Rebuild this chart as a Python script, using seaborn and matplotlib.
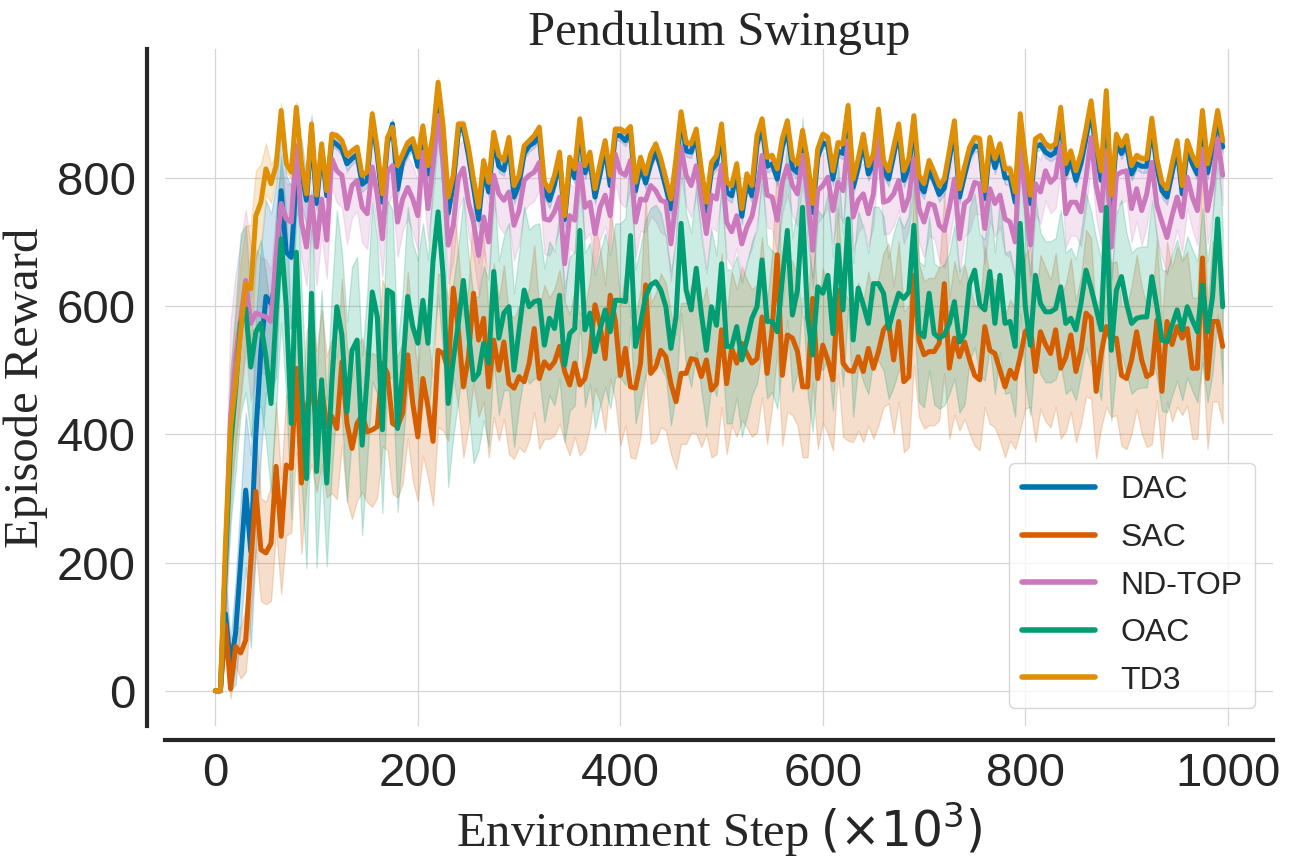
import numpy as np
import pandas as pd
import seaborn as sns
import matplotlib.pyplot as plt
from matplotlib.lines import Line2D

algos = ['DAC', 'SAC', 'ND-TOP', 'OAC', 'TD3']
step_size = 5  # evaluation every 5k env steps

# mean episode reward per evaluation (x = 0, 5, ..., 995)
dac_mean = [0, 0, 120, 40, 90, 200, 313, 217, 400, 530,
            615, 604, 640, 780, 684, 676, 800, 810, 765, 872,
            760, 845, 772, 858, 852, 845, 822, 830, 836, 790,
            796, 892, 835, 762, 855, 884, 782, 826, 842, 850,
            818, 872, 806, 858, 930, 870, 745, 790, 872, 878,
            835, 785, 735, 812, 778, 860, 818, 812, 852, 770,
            790, 838, 850, 855, 866, 780, 765, 790, 828, 735,
            818, 800, 880, 808, 826, 770, 806, 846, 788, 866,
            866, 858, 872, 780, 818, 792, 822, 842, 815, 785,
            752, 818, 895, 842, 840, 866, 800, 748, 812, 822,
            870, 778, 772, 808, 740, 792, 772, 852, 880, 818,
            822, 798, 848, 876, 815, 808, 862, 812, 746, 832,
            855, 850, 798, 842, 838, 900, 785, 816, 855, 806,
            822, 895, 812, 798, 835, 872, 796, 816, 884, 790,
            778, 812, 795, 774, 784, 828, 876, 770, 804, 835,
            850, 848, 768, 850, 816, 840, 800, 800, 762, 886,
            818, 760, 848, 852, 840, 835, 840, 896, 806, 828,
            796, 822, 862, 905, 842, 796, 920, 760, 855, 838,
            852, 806, 822, 818, 818, 880, 816, 780, 770, 808,
            845, 775, 845, 822, 806, 890, 808, 845, 892, 848]

sac_mean = [0, 0, 103, 3, 69, 59, 79, 200, 311, 220,
            215, 230, 350, 241, 352, 347, 503, 324, 440, 474,
            420, 474, 412, 428, 409, 513, 417, 378, 417, 430,
            404, 407, 412, 511, 495, 417, 412, 433, 524, 448,
            396, 487, 443, 389, 531, 526, 500, 628, 563, 474,
            520, 620, 547, 581, 474, 547, 500, 544, 479, 472,
            490, 482, 511, 565, 487, 513, 503, 513, 537, 498,
            477, 511, 477, 487, 526, 602, 570, 518, 617, 578,
            492, 534, 474, 472, 511, 633, 495, 505, 531, 521,
            479, 451, 495, 495, 518, 516, 490, 516, 469, 479,
            563, 479, 534, 511, 542, 526, 511, 518, 583, 495,
            563, 680, 492, 555, 550, 529, 474, 474, 612, 487,
            539, 516, 485, 625, 511, 500, 498, 521, 498, 534,
            503, 529, 563, 573, 516, 576, 482, 490, 648, 547,
            524, 529, 529, 542, 635, 503, 550, 521, 544, 516,
            492, 485, 568, 531, 526, 500, 474, 500, 487, 521,
            560, 568, 498, 560, 540, 526, 563, 503, 520, 555,
            498, 531, 589, 581, 467, 526, 568, 547, 550, 492,
            487, 516, 560, 516, 490, 495, 578, 467, 576, 540,
            568, 550, 565, 503, 503, 675, 487, 576, 576, 537]

ndtop_mean = [0, 0, 200, 426, 520, 581, 640, 573, 589, 586,
              583, 576, 679, 760, 736, 731, 850, 731, 692, 770,
              692, 767, 703, 830, 811, 804, 752, 788, 796, 754,
              744, 817, 773, 705, 809, 819, 731, 767, 785, 767,
              741, 840, 752, 819, 897, 824, 695, 726, 800, 815,
              762, 731, 679, 739, 700, 804, 775, 765, 778, 726,
              749, 796, 804, 809, 824, 736, 734, 747, 770, 666,
              741, 734, 822, 754, 762, 713, 754, 773, 741, 837,
              809, 804, 827, 731, 767, 765, 788, 780, 765, 762,
              697, 765, 848, 804, 788, 819, 767, 713, 773, 767,
              820, 731, 716, 741, 697, 723, 740, 778, 835, 773,
              770, 734, 793, 819, 788, 775, 835, 773, 687, 780,
              788, 801, 749, 793, 780, 858, 739, 765, 775, 744,
              775, 866, 762, 765, 775, 796, 749, 770, 830, 752,
              731, 760, 757, 726, 718, 754, 798, 705, 760, 767,
              793, 790, 721, 783, 760, 773, 736, 731, 700, 853,
              770, 695, 791, 778, 811, 793, 801, 850, 744, 762,
              762, 747, 801, 863, 788, 749, 842, 692, 804, 809,
              811, 752, 783, 749, 775, 824, 757, 731, 707, 741,
              770, 739, 801, 770, 749, 845, 749, 791, 861, 804]

oac_mean = [0, 0, 200, 380, 470, 573, 596, 505, 560, 573,
            520, 448, 590, 705, 600, 417, 684, 480, 331, 620,
            342, 485, 324, 480, 599, 555, 435, 531, 547, 383,
            490, 622, 583, 407, 625, 620, 409, 500, 615, 568,
            542, 609, 542, 670, 747, 648, 448, 516, 573, 640,
            560, 485, 495, 542, 511, 654, 550, 589, 599, 500,
            563, 625, 599, 607, 609, 539, 581, 565, 617, 508,
            557, 565, 718, 563, 589, 529, 563, 594, 560, 609,
            609, 607, 710, 537, 573, 615, 633, 638, 625, 599,
            534, 583, 729, 625, 594, 659, 589, 531, 599, 570,
            666, 537, 537, 568, 516, 547, 581, 599, 672, 576,
            576, 560, 641, 718, 586, 625, 754, 583, 524, 630,
            620, 648, 557, 695, 594, 736, 547, 628, 602, 573,
            635, 635, 620, 565, 594, 620, 612, 622, 726, 560,
            552, 620, 557, 550, 555, 573, 607, 544, 557, 635,
            656, 602, 594, 654, 573, 648, 573, 576, 537, 729,
            600, 539, 648, 604, 591, 591, 596, 630, 573, 581,
            563, 604, 656, 628, 596, 563, 754, 531, 625, 646,
            604, 573, 581, 583, 583, 646, 599, 547, 544, 570,
            594, 563, 599, 578, 560, 633, 560, 615, 736, 599]

td3_mean = [0, 0, 230, 410, 480, 560, 635, 627, 741, 762,
            814, 791, 819, 905, 822, 809, 910, 824, 775, 884,
            773, 853, 780, 868, 866, 858, 835, 842, 848, 804,
            809, 900, 845, 775, 863, 879, 819, 837, 855, 861,
            832, 881, 819, 868, 949, 881, 770, 804, 884, 884,
            848, 798, 754, 827, 793, 871, 835, 827, 863, 788,
            804, 850, 858, 866, 879, 793, 780, 804, 840, 741,
            832, 814, 892, 819, 840, 783, 822, 858, 804, 876,
            876, 871, 880, 793, 832, 806, 837, 853, 830, 798,
            767, 830, 903, 855, 853, 876, 814, 762, 824, 835,
            884, 793, 788, 822, 752, 806, 788, 866, 892, 832,
            835, 814, 861, 889, 830, 822, 874, 827, 760, 845,
            868, 863, 811, 855, 853, 913, 798, 830, 868, 819,
            837, 907, 827, 811, 848, 884, 811, 830, 897, 804,
            791, 827, 809, 788, 798, 842, 889, 783, 817, 848,
            863, 861, 780, 863, 830, 853, 814, 814, 778, 900,
            830, 773, 861, 866, 853, 848, 853, 910, 822, 842,
            811, 837, 876, 920, 855, 811, 936, 773, 868, 850,
            866, 819, 835, 830, 830, 893, 830, 793, 783, 822,
            858, 788, 858, 835, 819, 905, 822, 858, 905, 858]

# half width of the shaded band
dac_spread = [0, 0, 60, 40, 80, 100, 120, 150, 180, 160,
              150, 140, 150, 90, 120, 110, 60, 50, 40, 25,
              12, 10, 12, 9, 8, 10, 11, 9, 8, 12,
              10, 8, 11, 12, 9, 8, 13, 10, 9, 8,
              10, 9, 11, 8, 12, 10, 13, 11, 9, 8,
              9, 11, 12, 10, 11, 8, 10, 9, 8, 11,
              10, 8, 9, 8, 9, 11, 12, 10, 8, 13,
              9, 10, 8, 10, 9, 11, 10, 8, 11, 8,
              8, 9, 8, 11, 10, 10, 8, 9, 10, 11,
              12, 10, 8, 9, 9, 8, 10, 12, 10, 9,
              8, 11, 11, 10, 13, 10, 11, 8, 8, 10,
              9, 10, 8, 8, 10, 10, 8, 10, 12, 9,
              8, 8, 11, 9, 9, 8, 11, 10, 8, 10,
              9, 8, 10, 11, 9, 8, 11, 10, 8, 11,
              11, 10, 10, 11, 11, 9, 8, 11, 10, 9,
              8, 8, 12, 8, 10, 9, 10, 10, 12, 8,
              10, 12, 8, 8, 9, 9, 9, 8, 10, 9,
              11, 10, 8, 8, 9, 11, 8, 12, 8, 9,
              8, 10, 9, 10, 10, 8, 10, 11, 12, 10,
              9, 12, 9, 10, 10, 8, 10, 9, 8, 9]

sac_spread = [0, 0, 40, 15, 30, 40, 50, 80, 90, 80,
              80, 90, 100, 90, 110, 100, 130, 110, 120, 120,
              110, 120, 110, 120, 110, 130, 120, 110, 120, 120,
              110, 120, 110, 130, 120, 110, 110, 110, 130, 120,
              100, 120, 110, 100, 120, 120, 110, 140, 120, 110,
              110, 140, 120, 130, 110, 120, 110, 120, 110, 110,
              110, 110, 120, 130, 110, 120, 110, 115, 120, 110,
              110, 115, 110, 110, 115, 130, 120, 115, 130, 125,
              110, 120, 110, 110, 115, 140, 110, 115, 120, 115,
              110, 105, 110, 110, 115, 115, 110, 115, 105, 110,
              120, 110, 120, 115, 120, 115, 115, 115, 125, 110,
              120, 150, 110, 120, 120, 115, 110, 110, 130, 110,
              120, 115, 110, 130, 115, 110, 110, 115, 110, 120,
              110, 115, 120, 125, 115, 125, 110, 110, 140, 120,
              115, 115, 115, 120, 140, 110, 120, 115, 120, 115,
              110, 110, 125, 115, 115, 110, 110, 110, 110, 115,
              120, 125, 110, 120, 120, 115, 120, 110, 115, 120,
              110, 115, 130, 125, 105, 115, 125, 120, 120, 110,
              110, 115, 120, 115, 110, 110, 125, 105, 125, 120,
              125, 120, 120, 110, 110, 150, 110, 125, 125, 120]

ndtop_spread = [0, 0, 120, 150, 130, 120, 110, 120, 100, 90,
                90, 80, 70, 60, 55, 60, 50, 55, 60, 50,
                60, 55, 60, 45, 50, 50, 55, 50, 48, 55,
                55, 45, 50, 60, 50, 45, 55, 50, 48, 52,
                55, 45, 50, 48, 40, 45, 60, 55, 50, 45,
                50, 55, 60, 50, 55, 45, 50, 52, 48, 55,
                52, 48, 45, 45, 42, 55, 55, 50, 48, 60,
                50, 52, 45, 50, 48, 55, 50, 48, 52, 45,
                48, 50, 45, 55, 50, 50, 48, 48, 50, 52,
                58, 50, 45, 48, 50, 45, 50, 55, 50, 50,
                45, 55, 55, 50, 58, 52, 50, 48, 45, 50,
                50, 52, 48, 45, 48, 50, 45, 50, 60, 50,
                48, 46, 52, 48, 50, 42, 55, 50, 48, 52,
                50, 42, 50, 52, 50, 46, 52, 50, 45, 52,
                55, 50, 52, 55, 58, 52, 48, 58, 52, 50,
                48, 48, 56, 48, 52, 50, 55, 55, 58, 45,
                50, 58, 48, 50, 46, 48, 48, 42, 52, 52,
                52, 54, 48, 42, 50, 54, 45, 58, 48, 48,
                46, 52, 50, 54, 50, 45, 52, 55, 58, 54,
                50, 55, 48, 50, 54, 45, 52, 48, 42, 48]

oac_spread = [0, 0, 60, 120, 130, 140, 130, 110, 120, 130,
              130, 140, 150, 130, 140, 150, 130, 150, 140, 160,
              150, 140, 130, 140, 150, 130, 140, 130, 130, 140,
              130, 140, 120, 130, 140, 130, 130, 120, 140, 130,
              130, 120, 130, 140, 130, 120, 130, 120, 120, 130,
              120, 130, 120, 120, 130, 140, 120, 120, 130, 120,
              120, 130, 120, 120, 120, 120, 120, 120, 130, 120,
              120, 120, 140, 120, 110, 120, 120, 120, 120, 120,
              120, 130, 140, 120, 120, 120, 120, 120, 120, 110,
              120, 120, 140, 120, 120, 130, 120, 120, 120, 110,
              130, 120, 120, 110, 120, 120, 120, 120, 140, 120,
              110, 120, 130, 140, 120, 130, 140, 120, 120, 120,
              120, 130, 120, 130, 120, 140, 120, 120, 120, 110,
              120, 120, 120, 110, 120, 120, 110, 120, 140, 110,
              110, 120, 110, 110, 110, 110, 120, 110, 110, 120,
              120, 110, 110, 120, 110, 120, 110, 110, 110, 140,
              120, 110, 120, 110, 110, 110, 110, 120, 110, 110,
              110, 110, 120, 120, 110, 110, 150, 110, 120, 120,
              110, 110, 110, 110, 110, 120, 110, 110, 110, 110,
              110, 110, 110, 110, 110, 120, 110, 120, 150, 120]

td3_spread = [0, 0, 60, 90, 100, 110, 90, 100, 70, 60,
              40, 30, 18, 12, 14, 10, 8, 9, 8, 7,
              6, 5, 7, 4, 5, 6, 5, 6, 4, 7,
              5, 6, 7, 4, 5, 5, 6, 6, 5, 5,
              7, 5, 6, 4, 8, 6, 7, 5, 5, 6,
              5, 6, 7, 5, 6, 4, 5, 6, 5, 7,
              6, 5, 4, 5, 5, 6, 7, 6, 5, 7,
              5, 6, 5, 6, 5, 6, 6, 5, 6, 4,
              5, 5, 5, 6, 6, 6, 5, 5, 6, 6,
              7, 6, 5, 5, 6, 5, 6, 7, 6, 5,
              5, 6, 7, 6, 7, 6, 6, 5, 5, 6,
              5, 6, 5, 5, 6, 5, 5, 6, 7, 5,
              5, 5, 6, 5, 6, 5, 6, 6, 5, 6,
              5, 5, 6, 6, 5, 5, 6, 6, 5, 6,
              6, 6, 6, 6, 6, 5, 5, 7, 6, 5,
              5, 5, 7, 5, 6, 5, 6, 6, 7, 5,
              6, 7, 5, 5, 5, 5, 5, 5, 6, 5,
              6, 6, 5, 5, 5, 6, 5, 7, 5, 5,
              5, 6, 5, 6, 6, 5, 6, 6, 7, 6,
              5, 7, 5, 6, 6, 5, 6, 5, 5, 5]

means = {'DAC': dac_mean, 'SAC': sac_mean, 'ND-TOP': ndtop_mean,
         'OAC': oac_mean, 'TD3': td3_mean}
spreads = {'DAC': dac_spread, 'SAC': sac_spread, 'ND-TOP': ndtop_spread,
           'OAC': oac_spread, 'TD3': td3_spread}

cb = sns.color_palette('colorblind')
palette = {'DAC': cb[0], 'SAC': cb[3], 'ND-TOP': cb[4], 'OAC': cb[2], 'TD3': cb[1]}

# long format: lower and upper edge as two rows per step, seaborn does mean + min/max band
frames = []
for algo in algos:
    m = np.array(means[algo], dtype=float)
    s = np.array(spreads[algo], dtype=float)
    steps = np.arange(len(m)) * step_size
    for sign in (-1, 1):
        frames.append(pd.DataFrame({'step': steps, 'reward': m + sign * s, 'algo': algo}))
df = pd.concat(frames, ignore_index=True)

sns.set_theme(style='whitegrid')
plt.rcParams['font.family'] = 'sans-serif'
plt.rcParams['font.sans-serif'] = ['Liberation Sans', 'DejaVu Sans']
plt.rcParams['mathtext.fontset'] = 'dejavusans'

fig, ax = plt.subplots(figsize=(12.96, 8.64), dpi=100)
fig.subplots_adjust(left=0.1273, right=0.9823, bottom=0.1597, top=0.9433)

sns.lineplot(data=df, x='step', y='reward', hue='algo', hue_order=algos,
             palette=palette, estimator='mean', errorbar=('pi', 100),
             err_kws={'alpha': 0.2}, linewidth=3.6, legend=False, ax=ax)

ax.set_ylim(-55, 1001)
ax.set_xticks([0, 200, 400, 600, 800, 1000])
ax.set_yticks([0, 200, 400, 600, 800])
ax.tick_params(axis='both', labelsize=34, colors='#262626')
ax.tick_params(axis='x', pad=3)
ax.tick_params(axis='y', pad=2)
ax.grid(True, color='#d6d6d6', linewidth=0.9)

ax.set_title('Pendulum Swingup', fontsize=35, family='Liberation Serif', color='#262626', pad=3)
ax.set_xlabel(r'Environment Step $(\times 10^3)$', fontsize=35, family='Liberation Serif',
              color='#262626', labelpad=3)
ax.set_ylabel('Episode Reward', fontsize=35, family='Liberation Serif', color='#262626', labelpad=6)

sns.despine(ax=ax)
ax.spines['left'].set_position(('outward', 13))
ax.spines['bottom'].set_position(('outward', 10))
for side in ['left', 'bottom']:
    ax.spines[side].set_linewidth(3)
    ax.spines[side].set_color('#262626')

handles = [Line2D([], [], color=palette[a], linewidth=4) for a in algos]
ax.legend(handles, algos, loc='lower right', fontsize=23, frameon=True,
          handlelength=2.3, handletextpad=0.8, labelspacing=0.55, borderaxespad=0.55)

plt.savefig('out.png', dpi=100)
